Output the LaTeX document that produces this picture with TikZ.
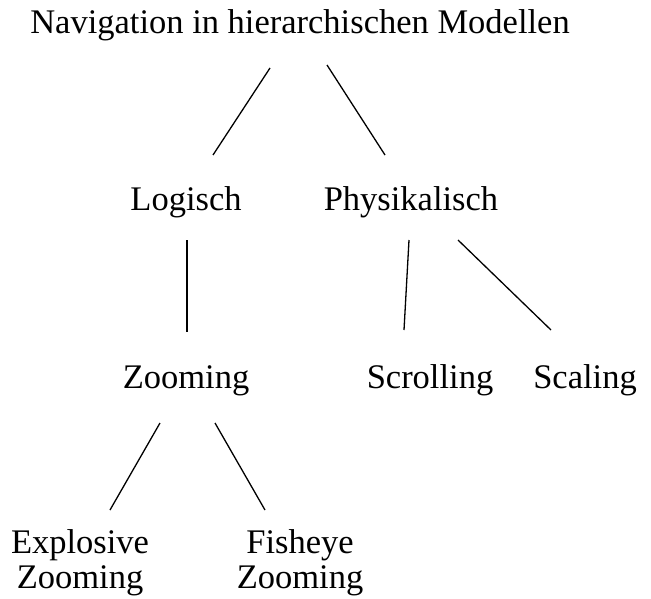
\documentclass[tikz,border=0pt]{standalone}
\usepackage{fontspec}
\setmainfont{Liberation Serif}
\begin{document}
\begin{tikzpicture}[x=1pt,y=-1pt,
  label/.style={anchor=base,inner sep=0pt,font=\fontsize{34.5}{35}\selectfont,align=center},
  edge/.style={line width=1.3pt}]
\useasboundingbox (0,0) rectangle (651,599);
% labels, placed by their (last) baseline
\node[label] (root) at (300,34) {Navigation in hierarchischen Modellen};
\node[label] (log) at (186,211) {Logisch};
\node[label] (phys) at (411,211) {Physikalisch};
\node[label] (zoom) at (186,388) {Zooming};
\node[label] (scroll) at (430,388) {Scrolling};
\node[label] (scal) at (585,388) {Scaling};
\node[label] (expl) at (80,588) {Explosive\\Zooming};
\node[label] (fish) at (300,588) {Fisheye\\Zooming};
% connectors (shifts are in page units: positive yshift moves up)
\draw[edge] ([xshift=-30pt,yshift=-34pt]root.base) -- ([xshift=27pt,yshift=56pt]log.base);
\draw[edge] ([xshift=27pt,yshift=-31pt]root.base) -- ([xshift=-26pt,yshift=56pt]phys.base);
\draw[edge] ([xshift=1pt,yshift=-29pt]log.base) -- ([xshift=1pt,yshift=56pt]zoom.base);
\draw[edge] ([xshift=-2pt,yshift=-29pt]phys.base) -- ([xshift=-26pt,yshift=58pt]scroll.base);
\draw[edge] ([xshift=47pt,yshift=-29pt]phys.base) -- ([xshift=-34pt,yshift=58pt]scal.base);
\draw[edge] ([xshift=-26pt,yshift=-35pt]zoom.base) -- ([xshift=30pt,yshift=78pt]expl.base);
\draw[edge] ([xshift=29pt,yshift=-35pt]zoom.base) -- ([xshift=-35pt,yshift=78pt]fish.base);
\end{tikzpicture}
\end{document}
